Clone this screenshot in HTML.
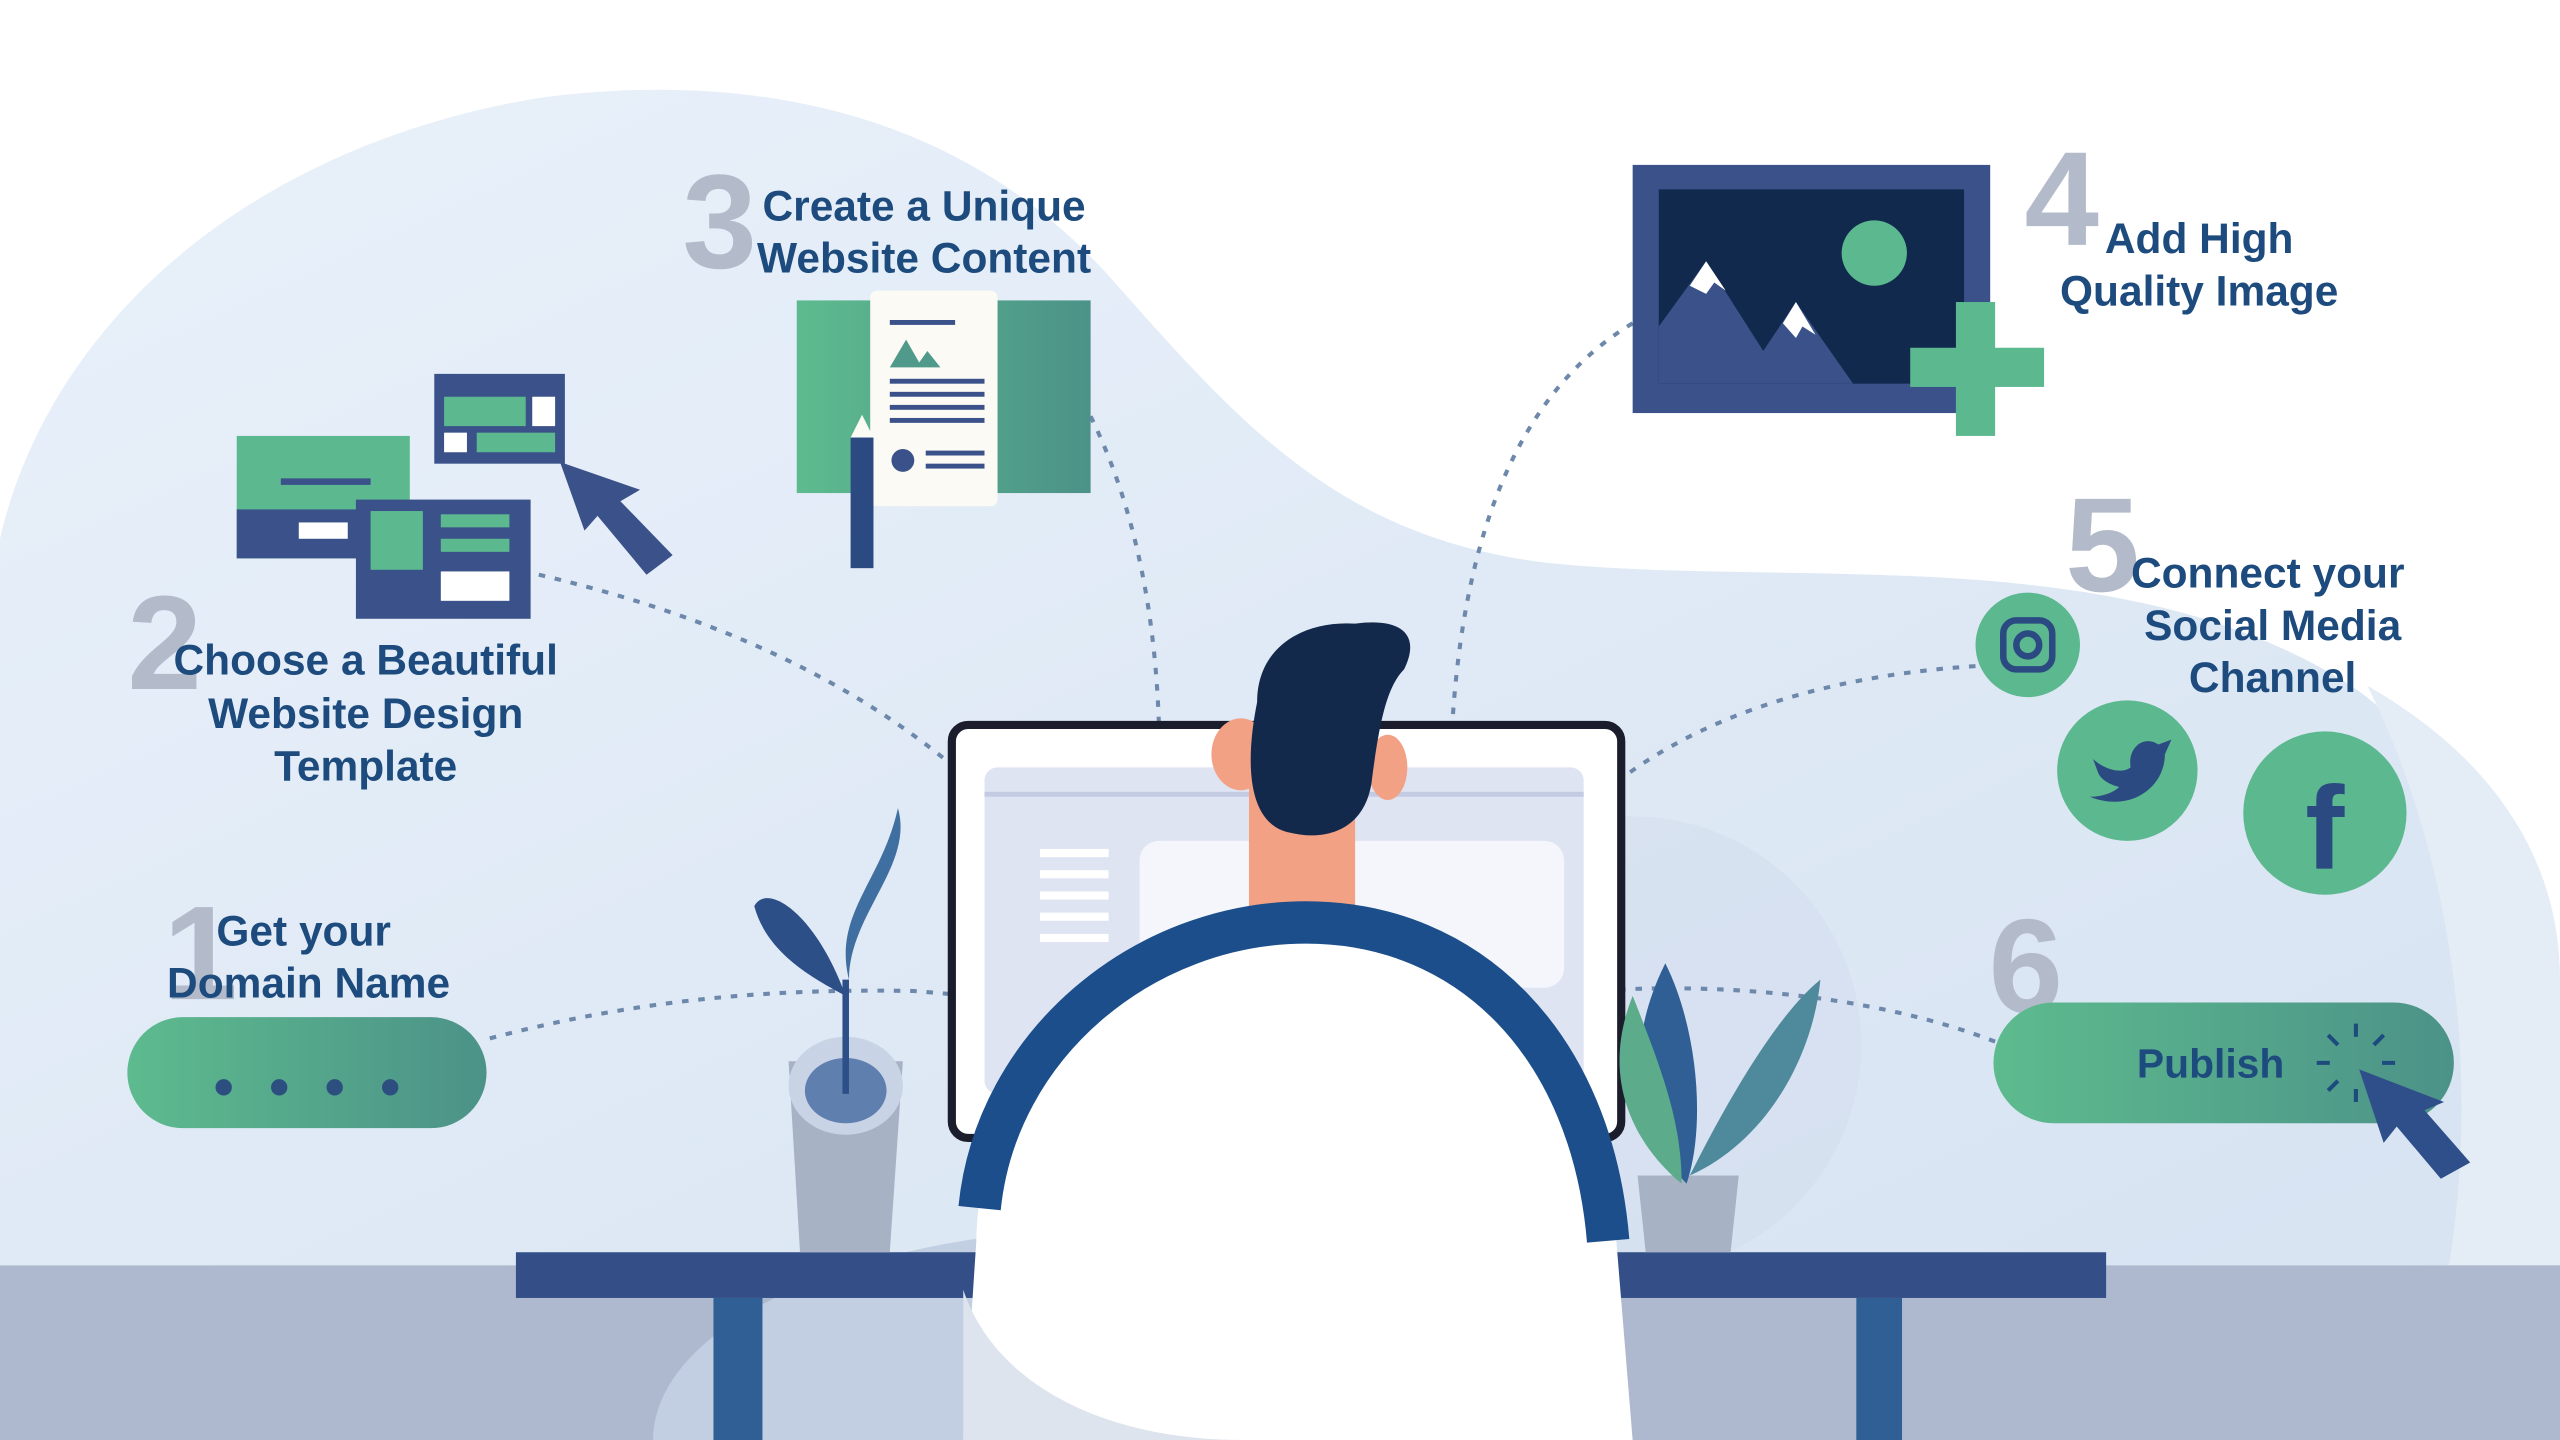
<!DOCTYPE html>
<html><head><meta charset="utf-8"><style>
html,body{margin:0;padding:0;background:#fff;width:2560px;height:1440px;overflow:hidden}
svg{display:block;position:absolute;left:0;top:0}
text{font-family:"Liberation Sans","DejaVu Sans",sans-serif;font-weight:bold}
</style></head><body>
<svg width="2560" height="1440" viewBox="0 0 1568 882" xmlns="http://www.w3.org/2000/svg">
<defs>
<linearGradient id="g1" x1="0" x2="1"><stop offset="0" stop-color="#5dbb8e"/><stop offset="1" stop-color="#4c9288"/></linearGradient>
<linearGradient id="bg" x1="0" x2="1" y1="0" y2="1"><stop offset="0" stop-color="#e9f1fa"/><stop offset="1" stop-color="#d7e3f2"/></linearGradient>
</defs>
<rect width="1568" height="882" fill="#fff"/>
<path d="M0 330 C30 200 150 90 330 60 C480 40 600 80 680 170 C760 260 820 330 950 345 C1100 360 1300 330 1440 420 C1530 480 1520 600 1545 700 L1568 775 L0 775 Z" fill="url(#bg)"/>
<path d="M1450 420 C1520 460 1568 520 1568 600 L1568 775 L1500 775 C1520 650 1500 520 1450 420Z" fill="#e4ecf6"/>
<circle cx="1000" cy="640" r="140" fill="#d3deef" opacity=".6"/>
<rect x="0" y="775" width="1568" height="107" fill="#aeb9cf"/>
<ellipse cx="690" cy="882" rx="290" ry="130" fill="#c2cfe2"/>
<g fill="none" stroke="#6d88aa" stroke-width="2.5" stroke-dasharray="4 6">
<path d="M300 636 C380 615 460 605 560 607 L620 612"/>
<path d="M330 352 C450 380 560 430 640 525"/>
<path d="M668 255 C700 320 712 400 710 485"/>
<path d="M1000 198 C930 240 890 330 888 485"/>
<path d="M1210 408 C1100 415 1000 450 945 525"/>
<path d="M1222 638 C1150 610 1050 600 965 608"/>
</g>
<rect x="583" y="444" width="410" height="253" rx="10" fill="#fff" stroke="#1b1c2c" stroke-width="5"/>
<rect x="603" y="470" width="367" height="200" rx="8" fill="#dfe4f3"/>
<rect x="603" y="485" width="367" height="3" fill="#c3cbe3"/>
<rect x="698" y="515" width="260" height="90" rx="12" fill="#f4f6fc"/>
<g fill="#fff"><rect x="637" y="520" width="42" height="5"/><rect x="637" y="533" width="42" height="5"/><rect x="637" y="546" width="42" height="5"/><rect x="637" y="559" width="42" height="5"/><rect x="637" y="572" width="42" height="5"/></g>
<rect x="316" y="767" width="974" height="28" fill="#344e87"/>
<rect x="437" y="795" width="30" height="87" fill="#2f5f95"/>
<rect x="1137" y="795" width="28" height="87" fill="#2f5f95"/>
<!-- person (in front of desk) -->
<rect x="765" y="480" width="65" height="80" fill="#f2a184"/>
<ellipse cx="760" cy="462" rx="18" ry="22" fill="#f2a184"/>
<ellipse cx="850" cy="470" rx="12" ry="20" fill="#f2a184"/>
<path d="M770 430 C770 395 800 380 830 382 C860 378 870 390 860 410 C850 420 845 440 840 480 C835 510 810 515 790 510 C765 505 762 470 770 430Z" fill="#13294b"/>
<path d="M598 760 C600 650 690 565 800 565 C905 565 985 650 990 760 L1000 882 L590 882 Z" fill="#fff"/>
<path d="M590 790 C610 850 680 882 760 882 L590 882Z" fill="#dde4ee"/>
<path d="M600 740 C610 640 700 565 800 565 C900 565 975 640 985 760" fill="none" stroke="#1b4e8a" stroke-width="26"/>
<!-- plant left -->
<path d="M483 650 L553 650 L545 767 L490 767Z" fill="#a8b2c5"/>
<ellipse cx="518" cy="665" rx="35" ry="30" fill="#c9d3e6"/>
<ellipse cx="518" cy="668" rx="25" ry="20" fill="#5f7fae"/>
<path d="M518 670 L518 600" stroke="#2d4f88" stroke-width="4"/>
<path d="M518 610 C500 560 470 540 462 555 C470 585 500 600 518 610Z" fill="#2d4f88"/>
<path d="M520 600 C520 560 560 530 550 495 C540 540 510 560 520 600Z" fill="#3f6fa0"/>
<!-- plant right -->
<path d="M1003 720 L1065 720 L1060 767 L1008 767Z" fill="#a8b2c5"/>
<path d="M1033 725 C1000 690 995 640 1020 590 C1040 630 1045 690 1033 725Z" fill="#2f5f95"/>
<path d="M1035 720 C1060 670 1090 620 1115 600 C1110 650 1080 700 1035 720Z" fill="#4f8a9c"/>
<path d="M1030 725 C1000 700 980 660 1000 610 C1020 660 1030 690 1030 725Z" fill="#5cab8a"/>
<g fill="#b3bbcb" font-size="82">
<text x="100" y="612">1</text><text x="78" y="422">2</text><text x="418" y="164">3</text><text x="1240" y="150">4</text><text x="1265" y="362">5</text><text x="1218" y="620">6</text>
</g>
<g fill="#1d4b7e" font-size="26" text-anchor="middle">
<text x="186" y="579">Get your</text><text x="189" y="611">Domain Name</text>
<text x="224" y="413">Choose a Beautiful</text><text x="224" y="446">Website Design</text><text x="224" y="478">Template</text>
<text x="566" y="135">Create a Unique</text><text x="566" y="167">Website Content</text>
<text x="1347" y="155">Add High</text><text x="1347" y="187">Quality Image</text>
<text x="1389" y="360">Connect your</text><text x="1392" y="392">Social Media</text><text x="1392" y="424">Channel</text>
</g>
<rect x="78" y="623" width="220" height="68" rx="34" fill="url(#g1)"/>
<g fill="#2c4f80"><circle cx="137" cy="666" r="5"/><circle cx="171" cy="666" r="5"/><circle cx="205" cy="666" r="5"/><circle cx="239" cy="666" r="5"/></g>
<rect x="1221" y="614" width="282" height="74" rx="37" fill="url(#g1)"/>
<text x="1354" y="660" fill="#1d4b7e" font-size="25" text-anchor="middle">Publish</text>
<g stroke="#1d4b7e" stroke-width="2.5"><path d="M1443 635v-8M1443 667v8M1427 651h-8M1459 651h8M1432 640l-6-6M1454 640l6-6M1432 662l-6 6"/></g>
<path d="M1445 655 L1460 700 L1468 690 L1495 722 L1513 712 L1485 680 L1497 675Z" fill="#2f4f8a"/>
<circle cx="1242" cy="395" r="32" fill="#5cb88f"/>
<rect x="1227" y="380" width="30" height="30" rx="8" fill="none" stroke="#2b4a82" stroke-width="4"/>
<circle cx="1242" cy="395" r="7" fill="none" stroke="#2b4a82" stroke-width="4"/>
<circle cx="1303" cy="472" r="43" fill="#5cb88f"/>
<path d="M1282 465 C1290 472 1300 474 1305 470 C1303 458 1313 450 1322 456 L1330 453 L1326 462 C1326 482 1305 498 1280 488 C1290 488 1296 484 1298 482 C1290 480 1286 476 1285 473 Z" fill="#2b4a82"/>
<circle cx="1424" cy="498" r="50" fill="#5cb88f"/>
<text x="1424" y="532" fill="#2b4a82" font-size="72" text-anchor="middle">f</text>
<rect x="1000" y="101" width="219" height="152" fill="#3a5289"/>
<rect x="1016" y="116" width="187" height="119" fill="#11294d"/>
<circle cx="1148" cy="155" r="20" fill="#5cb88f"/>
<path d="M1016 200 L1045 160 L1080 215 L1100 185 L1135 235 L1016 235Z" fill="#3a5289"/>
<path d="M1035 175 L1045 160 L1057 178 L1050 173 L1045 180Z M1092 198 L1100 185 L1112 205 L1104 200 L1100 207Z" fill="#fff"/>
<rect x="1198" y="185" width="24" height="82" fill="#5cb88f"/>
<rect x="1170" y="213" width="82" height="24" fill="#5cb88f"/>
<rect x="488" y="184" width="180" height="118" fill="url(#g1)"/>
<rect x="533" y="178" width="78" height="132" rx="4" fill="#fbfaf4"/>
<path d="M545 225 L555 208 L563 222 L568 215 L576 225Z" fill="#4f9a8a"/>
<g fill="#3a5289"><rect x="545" y="196" width="40" height="3"/><rect x="545" y="232" width="58" height="3"/><rect x="545" y="240" width="58" height="3"/><rect x="545" y="248" width="58" height="3"/><rect x="545" y="256" width="58" height="3"/><rect x="567" y="276" width="36" height="3"/><rect x="567" y="284" width="36" height="3"/><circle cx="553" cy="282" r="7"/></g>
<rect x="521" y="268" width="14" height="80" fill="#2b4a82"/>
<path d="M521 268 L528 254 L535 268Z" fill="#fbfaf4"/>
<rect x="145" y="267" width="106" height="75" fill="#5cb88f"/>
<rect x="145" y="312" width="106" height="30" fill="#3a5289"/>
<rect x="183" y="320" width="30" height="10" fill="#fff"/>
<rect x="172" y="293" width="55" height="4" fill="#3a5289"/>
<rect x="218" y="306" width="107" height="73" fill="#3a5289"/>
<rect x="227" y="313" width="32" height="36" fill="#5cb88f"/>
<rect x="270" y="315" width="42" height="8" fill="#5cb88f"/><rect x="270" y="330" width="42" height="8" fill="#5cb88f"/>
<rect x="270" y="350" width="42" height="18" fill="#fff"/>
<rect x="266" y="229" width="80" height="55" fill="#3a5289"/>
<rect x="272" y="243" width="50" height="18" fill="#5cb88f"/>
<rect x="326" y="243" width="14" height="18" fill="#fff"/>
<rect x="272" y="265" width="14" height="12" fill="#fff"/>
<rect x="292" y="265" width="48" height="12" fill="#5cb88f"/>
<path d="M343 283 L358 325 L366 316 L396 352 L412 340 L380 307 L392 300Z" fill="#3a5289"/>
</svg>
</body></html>
